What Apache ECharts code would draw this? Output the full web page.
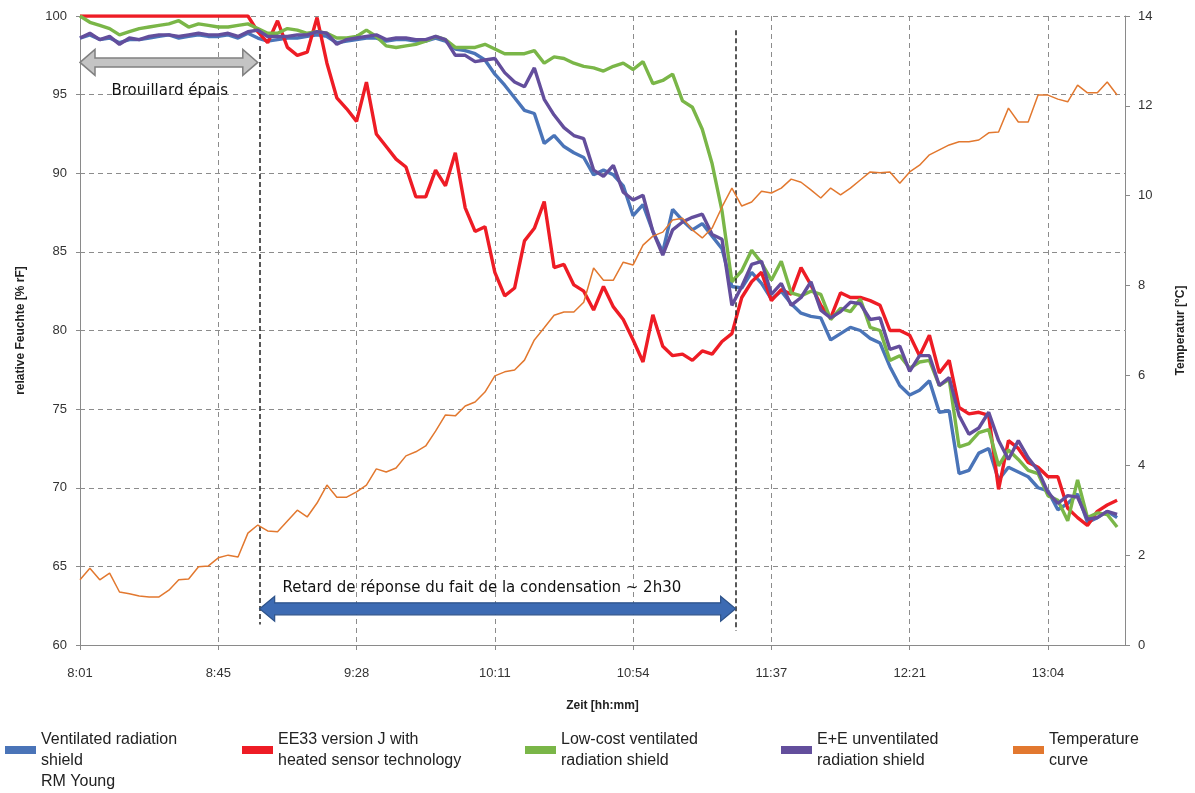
<!DOCTYPE html>
<html lang="en">
<head>
    <meta charset="UTF-8">
    <title>Feuchte / Temperatur</title>
    <script src="https://cdn.jsdelivr.net/npm/echarts@6/dist/echarts.min.js"></script>
    <style>
        html, body {margin: 0; padding: 0; background: #fff;}
        #main {width: 1195px; height: 793px;}
    </style>
</head>
<body>
<div id="main"></div>
<script>
    // x = sample number (one sample ~ 3.1 min), a tick label every 14 samples
    const timeTicks = ['8:01', '8:45', '9:28', '10:11', '10:54', '11:37', '12:21', '13:04'];

    // relative humidity [% rF]
    const ventilated = [
        98.6, 98.8, 98.5, 98.6, 98.3, 98.5, 98.5, 98.6, 98.7, 98.8, 98.6, 98.7, 98.8, 98.7, 98.7, 98.8,
        98.6, 98.9, 98.6, 98.4, 98.5, 98.6, 98.6, 98.7, 98.8, 98.7, 98.3, 98.4, 98.5, 98.6, 98.6, 98.4,
        98.5, 98.5, 98.4, 98.4, 98.6, 98.4, 97.9, 97.8, 97.6, 97.2, 96.3, 95.6, 94.8, 94.0, 93.8, 91.9,
        92.4, 91.7, 91.3, 91.0, 89.9, 90.2, 89.9, 89.2, 87.3, 88.0, 86.3, 85.0, 87.7, 87.0, 86.4, 86.8,
        86.0, 85.2, 82.8, 82.7, 83.7, 83.0, 82.0, 82.5, 81.7, 81.1, 80.9, 80.8, 79.4, 79.8, 80.2, 80.0,
        79.5, 79.2, 77.7, 76.5, 75.9, 76.2, 76.8, 74.8, 74.9, 70.9, 71.1, 72.2, 72.5, 70.5, 71.3, 71.0,
        70.7, 70.0, 69.8, 68.6, 69.0, 69.6, 67.8, 68.1, 68.5, 68.1
    ];
    const ee33 = [
        100, 100, 100, 100, 100, 100, 100, 100, 100, 100, 100, 100, 100, 100, 100, 100,
        100, 100, 99.0, 98.3, 99.7, 98.0, 97.5, 97.7, 99.9, 97.0, 94.8, 94.1, 93.3, 95.8, 92.5, 91.7,
        90.9, 90.4, 88.5, 88.5, 90.2, 89.2, 91.3, 87.8, 86.3, 86.6, 83.7, 82.2, 82.7, 85.7, 86.5, 88.2,
        84.0, 84.2, 82.9, 82.5, 81.3, 82.8, 81.5, 80.7, 79.4, 78.0, 81.0, 79.0, 78.4, 78.5, 78.1, 78.7,
        78.5, 79.3, 79.8, 82.1, 83.1, 83.7, 81.9, 82.6, 82.3, 84.0, 82.9, 81.6, 80.8, 82.4, 82.1, 82.1,
        81.9, 81.6, 80.0, 80.0, 79.7, 78.4, 79.7, 77.3, 78.1, 75.1, 74.7, 74.8, 74.6, 69.9, 73.0, 72.5,
        71.6, 71.3, 70.7, 70.7, 68.7, 68.1, 67.6, 68.5, 68.9, 69.2
    ];
    const lowCost = [
        100, 99.6, 99.4, 99.2, 98.8, 99.0, 99.2, 99.3, 99.4, 99.5, 99.7, 99.3, 99.5, 99.4, 99.3, 99.3,
        99.4, 99.5, 99.2, 98.9, 98.9, 99.2, 99.1, 98.9, 99.0, 98.9, 98.6, 98.6, 98.7, 99.1, 98.7, 98.1,
        98.0, 98.1, 98.2, 98.4, 98.7, 98.5, 98.0, 98.0, 98.0, 98.2, 97.9, 97.6, 97.6, 97.6, 97.8, 97.0,
        97.4, 97.3, 97.0, 96.8, 96.7, 96.5, 96.8, 97.0, 96.6, 97.1, 95.7, 95.9, 96.3, 94.6, 94.2, 92.8,
        90.6, 87.6, 83.1, 83.8, 85.1, 84.3, 83.2, 84.4, 82.4, 82.2, 82.5, 82.3, 80.7, 81.4, 81.2, 82.0,
        80.2, 80.0, 78.1, 78.4, 77.6, 78.0, 78.1, 76.5, 76.9, 72.6, 72.8, 73.5, 73.7, 71.4, 72.4, 71.8,
        71.1, 70.9, 69.5, 69.2, 67.9, 70.5, 68.1, 68.4, 68.3, 67.5
    ];
    const unventilated = [
        98.6, 98.9, 98.5, 98.7, 98.2, 98.6, 98.5, 98.7, 98.8, 98.8, 98.7, 98.8, 98.9, 98.8, 98.8, 98.9,
        98.7, 99.0, 99.1, 98.7, 98.7, 98.7, 98.8, 98.8, 99.0, 98.9, 98.2, 98.5, 98.6, 98.7, 98.8, 98.5,
        98.6, 98.6, 98.5, 98.5, 98.7, 98.5, 97.5, 97.5, 97.1, 97.2, 97.3, 96.4, 95.8, 95.5, 96.7, 94.7,
        93.7, 92.9, 92.4, 92.2, 90.2, 89.8, 90.5, 88.8, 88.3, 88.6, 86.3, 84.8, 86.4, 86.9, 87.2, 87.4,
        86.1, 85.8, 81.6, 82.8, 84.2, 84.4, 82.3, 83.0, 81.6, 82.1, 83.1, 81.3, 80.8, 81.2, 81.8, 81.7,
        80.7, 80.8, 78.8, 79.0, 77.4, 78.4, 78.4, 76.5, 77.0, 74.6, 73.4, 73.8, 74.8, 73.0, 71.8, 73.0,
        71.9, 71.1, 69.7, 69.0, 69.5, 69.4, 68.0, 68.1, 68.5, 68.3
    ];
    // temperature [°C]
    const temperature = [
        1.45, 1.71, 1.45, 1.60, 1.18, 1.14, 1.09, 1.07, 1.07, 1.22, 1.45, 1.47, 1.74, 1.76, 1.94, 2.00,
        1.96, 2.49, 2.67, 2.54, 2.52, 2.76, 3.00, 2.85, 3.16, 3.56, 3.29, 3.29, 3.41, 3.56, 3.92, 3.85,
        3.94, 4.21, 4.30, 4.43, 4.76, 5.12, 5.10, 5.32, 5.41, 5.63, 5.99, 6.08, 6.12, 6.34, 6.79, 7.06,
        7.34, 7.41, 7.41, 7.63, 8.39, 8.12, 8.12, 8.52, 8.46, 8.90, 9.10, 9.19, 9.46, 9.50, 9.24, 9.06,
        9.28, 9.75, 10.17, 9.77, 9.86, 10.10, 10.06, 10.17, 10.37, 10.30, 10.13, 9.95, 10.17, 10.02, 10.17, 10.35,
        10.53, 10.51, 10.53, 10.28, 10.53, 10.68, 10.91, 11.02, 11.13, 11.20, 11.20, 11.24, 11.40, 11.42, 11.95, 11.64,
        11.64, 12.24, 12.24, 12.15, 12.09, 12.46, 12.29, 12.29, 12.53, 12.24
    ];

    const seriesNames = [
        'Ventilated radiation\nshield\nRM Young',
        'EE33 version J with\nheated sensor technology',
        'Low-cost ventilated\nradiation shield',
        'E+E unventilated\nradiation shield',
        'Temperature\ncurve'
    ];
    const seriesColors = ['#4a74b8', '#ee1c25', '#7ab648', '#634e9c', '#e2782f'];

    // annotations (sample number / humidity)
    const fogArrow = {from: 0, to: 18.0, value: 97.05};
    const delayArrow = {from: 18.19, to: 66.38, value: 62.3};
    const markerLines = [[18.19, 98.1, 61.3], [66.38, 99.1, 60.9]];

    const font = '"Liberation Sans", Arial, sans-serif';
    const chart = echarts.init(document.getElementById('main'));

    const toPairs = arr => arr.map((v, i) => [i, v]);

    function legendFor(idx, left, top, formatter) {
        const lg = {
            show: true,
            left: left,
            top: top,
            padding: 0,
            icon: 'rect',
            itemWidth: 31,
            itemHeight: 8,
            itemGap: 0,
            selectedMode: false,
            data: [seriesNames[idx]],
            textStyle: {fontFamily: font, fontSize: 16, lineHeight: 21, color: '#222'}
        };
        if (formatter) lg.formatter = formatter;
        return lg;
    }

    const option = {
        animation: false,
        backgroundColor: '#fff',
        textStyle: {fontFamily: font},
        grid: {left: 80, right: 68, top: 16, bottom: 148, containLabel: false},
        legend: [
            // blank first line keeps the icon level with the first two text lines
            legendFor(0, 5, 708, name => '\n' + name),
            legendFor(1, 242, 729),
            legendFor(2, 525, 729),
            legendFor(3, 781, 729),
            legendFor(4, 1013, 729)
        ],
        xAxis: {
            type: 'value',
            min: 0,
            max: 105.8,
            interval: 14,
            name: 'Zeit [hh:mm]',
            nameLocation: 'middle',
            nameGap: 55,
            nameTextStyle: {fontWeight: 'bold', fontSize: 12, color: '#222', fontFamily: font},
            axisLine: {show: true, lineStyle: {color: '#8a8a8a', width: 1}},
            axisTick: {show: true, length: 5, inside: false, lineStyle: {color: '#8a8a8a'}},
            axisLabel: {
                margin: 22, fontSize: 13, color: '#333', fontFamily: font,
                showMaxLabel: false,
                formatter: v => (Math.abs(v % 14) < 1e-6 ? (timeTicks[Math.round(v / 14)] || '') : '')
            },
            splitLine: {show: true, lineStyle: {color: '#8c8c8c', type: [5, 4], width: 1}}
        },
        yAxis: [
            {
                type: 'value',
                min: 60,
                max: 100,
                interval: 5,
                name: 'relative Feuchte [% rF]',
                nameLocation: 'middle',
                nameRotate: 90,
                nameGap: 53,
                nameTextStyle: {fontWeight: 'bold', fontSize: 12, color: '#222', fontFamily: font},
                axisLine: {show: true, lineStyle: {color: '#8a8a8a', width: 1}},
                axisTick: {show: true, length: 4, lineStyle: {color: '#8a8a8a'}},
                axisLabel: {margin: 13, fontSize: 13, color: '#333', fontFamily: font},
                splitLine: {show: true, lineStyle: {color: '#8c8c8c', type: [5, 4], width: 1}}
            },
            {
                type: 'value',
                position: 'right',
                min: 0,
                max: 14,
                interval: 2,
                name: 'Temperatur [°C]',
                nameLocation: 'middle',
                nameRotate: 90,
                nameGap: 50,
                nameTextStyle: {fontWeight: 'bold', fontSize: 12, color: '#222', fontFamily: font},
                axisLine: {show: true, lineStyle: {color: '#8a8a8a', width: 1}},
                axisTick: {show: true, length: 5, lineStyle: {color: '#8a8a8a'}},
                axisLabel: {margin: 13, fontSize: 13, color: '#333', fontFamily: font},
                splitLine: {show: false}
            }
        ],
        series: [
            {
                name: seriesNames[0], type: 'line', yAxisIndex: 0, data: toPairs(ventilated),
                showSymbol: false, lineStyle: {width: 3.4, color: seriesColors[0]}, itemStyle: {color: seriesColors[0]},
                z: 2,
                markLine: {
                    silent: true,
                    symbol: 'none',
                    label: {show: false},
                    lineStyle: {color: '#222', type: [5, 3], width: 1.5},
                    data: markerLines.map(m => [{coord: [m[0], m[1]]}, {coord: [m[0], m[2]]}])
                }
            },
            {
                name: seriesNames[1], type: 'line', yAxisIndex: 0, data: toPairs(ee33),
                showSymbol: false, lineStyle: {width: 3.4, color: seriesColors[1]}, itemStyle: {color: seriesColors[1]},
                z: 3
            },
            {
                name: seriesNames[2], type: 'line', yAxisIndex: 0, data: toPairs(lowCost),
                showSymbol: false, lineStyle: {width: 3.4, color: seriesColors[2]}, itemStyle: {color: seriesColors[2]},
                z: 4
            },
            {
                name: seriesNames[3], type: 'line', yAxisIndex: 0, data: toPairs(unventilated),
                showSymbol: false, lineStyle: {width: 3.4, color: seriesColors[3]}, itemStyle: {color: seriesColors[3]},
                z: 5
            },
            {
                name: seriesNames[4], type: 'line', yAxisIndex: 1, data: toPairs(temperature),
                showSymbol: false, lineStyle: {width: 1.5, color: seriesColors[4]}, itemStyle: {color: seriesColors[4]},
                z: 6
            }
        ]
    };

    chart.setOption(option);

    // double headed arrows and their captions, placed through the axes
    function arrowShape(a, shaft, head, headLen) {
        const p1 = chart.convertToPixel({xAxisIndex: 0, yAxisIndex: 0}, [a.from, a.value]);
        const p2 = chart.convertToPixel({xAxisIndex: 0, yAxisIndex: 0}, [a.to, a.value]);
        const y = p1[1], x1 = p1[0], x2 = p2[0];
        return [
            [x1, y], [x1 + headLen, y - head], [x1 + headLen, y - shaft], [x2 - headLen, y - shaft],
            [x2 - headLen, y - head], [x2, y], [x2 - headLen, y + head], [x2 - headLen, y + shaft],
            [x1 + headLen, y + shaft], [x1 + headLen, y + head]
        ];
    }

    const fogText = chart.convertToPixel({xAxisIndex: 0, yAxisIndex: 0}, [9.09, 95.2]);
    const delayText = chart.convertToPixel({xAxisIndex: 0, yAxisIndex: 0}, [20.5, 63.6]);

    chart.setOption({
        graphic: [
            {
                type: 'polygon', z: 100,
                shape: {points: arrowShape(fogArrow, 4.5, 13, 15)},
                style: {fill: '#c4c4c4', stroke: '#808080', lineWidth: 1.5}
            },
            {
                type: 'polygon', z: 100,
                shape: {points: arrowShape(delayArrow, 6, 12.5, 15)},
                style: {fill: '#3d6bb3', stroke: '#2d5289', lineWidth: 1.2}
            },
            {
                type: 'text', z: 100, x: fogText[0], y: fogText[1],
                style: {
                    text: 'Brouillard épais', fill: '#111', font: '15px "DejaVu Sans", sans-serif',
                    align: 'center', verticalAlign: 'middle'
                }
            },
            {
                type: 'text', z: 100, x: delayText[0], y: delayText[1],
                style: {
                    text: 'Retard de réponse du fait de la condensation ~ 2h30', fill: '#111',
                    font: '15px "DejaVu Sans", sans-serif', align: 'left', verticalAlign: 'middle'
                }
            }
        ]
    });
</script>
</body>
</html>
